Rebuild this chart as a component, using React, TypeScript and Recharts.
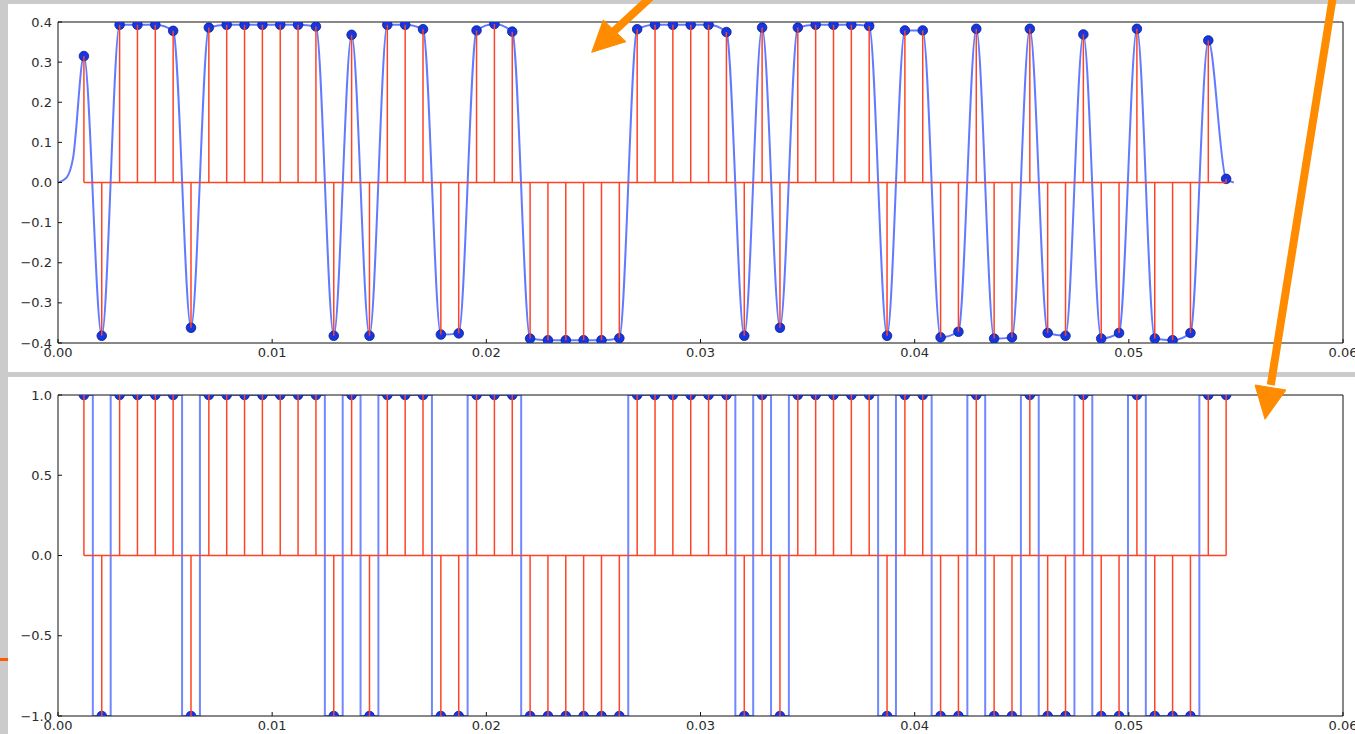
import React from 'react';
import { ComposedChart, Line, Scatter, XAxis, YAxis, ReferenceLine } from 'recharts';

// sampling grid (s)
const SAMPLE_START = 0.00121;
const SAMPLE_STEP = 1 / 1200;

// top panel: samples of the filtered signal (blue dots / red stems)
const filteredSamples = [
  0.315, -0.382, 0.393, 0.393, 0.393, 0.378, -0.362, 0.386, 0.393, 0.393,
  0.393, 0.393, 0.393, 0.389, -0.382, 0.368, -0.382, 0.393, 0.393, 0.382,
  -0.379, -0.376, 0.379, 0.395, 0.376, -0.389, -0.393, -0.393, -0.393, -0.393,
  -0.388, 0.382, 0.393, 0.393, 0.393, 0.393, 0.375, -0.382, 0.386, -0.362,
  0.386, 0.393, 0.393, 0.393, 0.39, -0.382, 0.379, 0.379, -0.386, -0.372,
  0.383, -0.389, -0.386, 0.383, -0.375, -0.382, 0.369, -0.389, -0.375, 0.383,
  -0.389, -0.393, -0.375, 0.354, 0.009,
];

// bottom panel: decided symbols
const decidedSymbols = [
  1, -1, 1, 1, 1, 1, -1, 1, 1, 1,
  1, 1, 1, 1, -1, 1, -1, 1, 1, 1,
  -1, -1, 1, 1, 1, -1, -1, -1, -1, -1,
  -1, 1, 1, 1, 1, 1, 1, -1, 1, -1,
  1, 1, 1, 1, 1, -1, 1, 1, -1, -1,
  1, -1, -1, 1, -1, -1, 1, -1, -1, 1,
  -1, -1, -1, 1, 1,
];

// parts of the blue analog curve outside the samples
const curveLeadIn = [
  { t: 0, v: 0 },
  { t: 0.0004, v: 0.012 },
  { t: 0.0007, v: 0.06 },
];
const curveTail = [{ t: 0.0549, v: 0 }];

const xTicks = [0, 0.01, 0.02, 0.03, 0.04, 0.05, 0.06];
const topYTicks = [-0.4, -0.3, -0.2, -0.1, 0, 0.1, 0.2, 0.3, 0.4];
const bottomYTicks = [-1, -0.5, 0, 0.5, 1];

const sampleTimes = filteredSamples.map((_, i) => SAMPLE_START + i * SAMPLE_STEP);
const topPoints = filteredSamples.map((v, i) => ({ t: sampleTimes[i], v }));
const bottomPoints = decidedSymbols.map((v, i) => ({ t: sampleTimes[i], v }));
const topCurve = [...curveLeadIn, ...topPoints, ...curveTail];

const RED = '#ff4326';
const BLUE_LINE = '#2447ff';
const FONT = { fill: '#2b2b2b', fontSize: 13, fontFamily: 'DejaVu Sans' };
const fmtY = (v: number) => v.toFixed(1).replace('-', '\u2212');
const fmtX = (v: number) => v.toFixed(2);
const blank = () => '';

const Dot = (p: any) => (
  <circle cx={p.cx} cy={p.cy} r={4.8} fill="#1536e0" stroke="#0e1f8a" strokeWidth={0.8} />
);

function StemPanel({
  points,
  curve,
  yTicks,
  step,
}: {
  points: { t: number; v: number }[];
  curve: { t: number; v: number }[];
  yTicks: number[];
  step: boolean;
}) {
  const yDomain = [yTicks[0], yTicks[yTicks.length - 1]];
  const first = points[0].t;
  const last = points[points.length - 1].t;
  return (
    <ComposedChart width={1355} height={368} margin={{ top: 21, right: 11, bottom: 0, left: 0 }}>
      <XAxis
        dataKey="t"
        type="number"
        domain={[0, 0.06]}
        ticks={xTicks}
        interval={0}
        tickFormatter={fmtX}
        tickSize={-4}
        tickMargin={9}
        height={25}
        stroke="#111"
        tick={FONT}
        allowDataOverflow
      />
      <XAxis
        xAxisId="top"
        orientation="top"
        type="number"
        domain={[0, 0.06]}
        ticks={xTicks}
        interval={0}
        tickFormatter={blank}
        tickSize={-4}
        height={1}
        stroke="#111"
      />
      <YAxis
        dataKey="v"
        type="number"
        domain={yDomain}
        ticks={yTicks}
        interval={0}
        tickFormatter={fmtY}
        tickSize={-4}
        tickMargin={10}
        width={58}
        stroke="#111"
        tick={FONT}
        allowDataOverflow
      />
      <YAxis
        yAxisId="right"
        orientation="right"
        type="number"
        domain={yDomain}
        ticks={yTicks}
        interval={0}
        tickFormatter={blank}
        tickSize={-4}
        width={1}
        stroke="#111"
      />
      <Line
        data={curve}
        dataKey="v"
        type={step ? 'step' : 'monotone'}
        stroke={BLUE_LINE}
        strokeWidth={2}
        strokeOpacity={step ? 0.65 : 0.72}
        dot={false}
        activeDot={false}
        isAnimationActive={false}
        zIndex={400}
      />
      <Scatter data={points} dataKey="v" shape={Dot} isAnimationActive={false} zIndex={600} />
      <ReferenceLine
        segment={[
          { x: first, y: 0 },
          { x: last, y: 0 },
        ]}
        stroke={RED}
        strokeWidth={1.5}
        zIndex={700}
      />
      {points.map((p, i) => (
        <ReferenceLine
          key={i}
          segment={[
            { x: p.t, y: 0 },
            { x: p.t, y: p.v },
          ]}
          stroke={RED}
          strokeWidth={1.5}
          zIndex={700}
        />
      ))}
    </ComposedChart>
  );
}

export default function App() {
  return (
    <div
      style={{
        position: 'absolute',
        left: 0,
        top: 0,
        width: 1355,
        height: 734,
        overflow: 'hidden',
        background: '#cbcbcb',
      }}
    >
      <div style={{ position: 'absolute', left: 8, top: 4, width: 1347, height: 368, background: '#fff' }} />
      <div style={{ position: 'absolute', left: 8, top: 377, width: 1347, height: 357, background: '#fff' }} />
      <div style={{ position: 'absolute', left: 0, top: 658, width: 8, height: 3, background: '#ff5a00' }} />

      <div style={{ position: 'absolute', left: 0, top: 0 }}>
        <StemPanel points={topPoints} curve={topCurve} yTicks={topYTicks} step={false} />
      </div>
      <div style={{ position: 'absolute', left: 0, top: 373 }}>
        <StemPanel points={bottomPoints} curve={bottomPoints} yTicks={bottomYTicks} step />
      </div>

      <svg
        width={1355}
        height={734}
        style={{ position: 'absolute', left: 0, top: 0, pointerEvents: 'none' }}
      >
        <g fill="#ff8c00" stroke="#ff8c00">
          <line x1={652} y1={-4} x2={612} y2={33} strokeWidth={8} />
          <polygon points="591.7,52.3 603.3,20 626,41.7" strokeWidth={1} />
          <line x1={1333} y1={-4} x2={1270.8} y2={385} strokeWidth={8} />
          <polygon points="1265,419.3 1255,385 1286,390" strokeWidth={1} />
        </g>
      </svg>
    </div>
  );
}
